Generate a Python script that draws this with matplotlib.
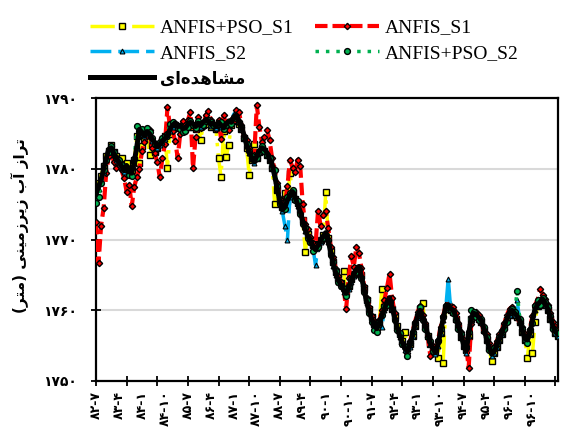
import numpy as np
import matplotlib
matplotlib.use("Agg")
import matplotlib.pyplot as plt

# months counted from 1382-07 (one value per month)
obs = [1776.5, 1777.5, 1778.5, 1780.0, 1781.5, 1782.8, 1783.0, 1782.2, 1781.5, 1781.0,
       1780.4, 1779.9, 1780.5, 1779.6, 1779.4, 1781.0, 1783.2, 1785.6, 1785.2, 1784.8,
       1785.3, 1785.0, 1784.2, 1783.8, 1783.2, 1783.5, 1784.0, 1784.3, 1784.8, 1785.6,
       1786.2, 1786.5, 1786.0, 1786.2, 1785.7, 1785.8, 1786.3, 1786.6, 1786.4, 1786.0,
       1786.5, 1786.2, 1786.6, 1787.0, 1786.8, 1786.3, 1786.5, 1786.0, 1786.6, 1786.2,
       1785.8, 1786.4, 1786.8, 1786.6, 1787.2, 1787.6, 1786.8, 1785.9, 1784.8, 1783.4,
       1782.5, 1781.6, 1781.0, 1781.8, 1782.6, 1783.0, 1782.8, 1782.3, 1781.4, 1780.6,
       1779.0, 1777.2, 1775.5, 1774.2, 1774.6, 1775.6, 1776.3, 1776.8, 1776.0, 1775.0,
       1774.0, 1772.6, 1771.4, 1770.5, 1769.8, 1769.0, 1768.6, 1769.2, 1769.8, 1770.5,
       1771.0, 1769.8, 1768.2, 1766.5, 1765.2, 1764.2, 1763.6, 1762.8, 1762.4, 1763.2,
       1764.2, 1765.0, 1765.8, 1766.2, 1764.8, 1763.0, 1761.2, 1760.0, 1758.8, 1757.8,
       1757.4, 1758.2, 1759.2, 1760.2, 1761.2, 1761.8, 1760.4, 1759.0, 1757.6, 1756.4,
       1755.5, 1754.6, 1754.2, 1755.0, 1756.6, 1758.0, 1759.2, 1760.0, 1759.0, 1757.8,
       1756.6, 1755.4, 1754.6, 1754.0, 1755.2, 1757.0, 1758.8, 1760.4, 1760.8, 1760.2,
       1760.0, 1759.0, 1757.8, 1756.4, 1755.2, 1754.2, 1756.6, 1759.0, 1759.6, 1759.4,
       1759.0, 1758.6, 1757.4, 1756.0, 1754.8, 1753.8, 1754.2, 1755.0, 1756.0, 1756.8,
       1757.8, 1758.8, 1759.6, 1760.0, 1759.6, 1759.2, 1758.6, 1757.2, 1756.0, 1755.8,
       1756.8, 1758.6, 1760.2, 1760.8, 1761.2, 1761.6, 1761.0, 1760.2, 1759.0, 1757.8,
       1757.0, 1756.6]

anfis_s1 = [1772.5, 1766.7, 1772.0, 1774.5, 1779.5, 1781.8, 1782.4, 1781.0, 1780.2, 1780.6,
            1779.8, 1778.7, 1776.8, 1777.8, 1774.7, 1777.5, 1778.9, 1780.0, 1782.5, 1783.8,
            1784.6, 1785.5, 1783.0, 1782.2, 1781.0, 1778.8, 1781.5, 1783.5, 1788.7, 1786.0,
            1785.4, 1784.0, 1781.6, 1785.0, 1786.8, 1786.2, 1786.9, 1788.1, 1780.1, 1784.5,
            1787.4, 1785.8, 1786.0, 1787.6, 1788.2, 1787.0, 1786.2, 1785.6, 1786.9, 1784.3,
            1787.7, 1786.0, 1785.5, 1787.0, 1786.8, 1788.3, 1788.1, 1786.2, 1784.6, 1784.1,
            1783.0, 1781.5, 1782.0, 1789.0, 1786.0, 1783.8, 1784.5, 1785.5, 1784.1, 1781.5,
            1779.8, 1778.0, 1775.8, 1774.8, 1775.0, 1777.6, 1781.3, 1780.2, 1779.6, 1781.3,
            1780.4, 1775.0, 1772.2, 1771.5, 1770.4, 1769.5, 1769.2, 1774.1, 1772.0, 1773.5,
            1774.0, 1771.6, 1769.0, 1767.5, 1765.8, 1764.8, 1764.0, 1763.2, 1760.2, 1764.6,
            1767.7, 1766.2, 1769.0, 1768.1, 1766.0, 1763.5, 1761.8, 1760.5, 1759.2, 1758.2,
            1757.8, 1758.6, 1760.0, 1761.5, 1763.2, 1765.2, 1761.8, 1759.6, 1757.2, 1756.8,
            1755.2, 1755.0, 1753.9, 1755.6, 1757.0, 1758.4, 1759.8, 1760.6, 1759.4, 1758.2,
            1756.2, 1753.5, 1755.0, 1754.4, 1755.8, 1757.6, 1759.2, 1760.8, 1761.2, 1760.6,
            1760.4, 1759.6, 1758.2, 1757.0, 1755.8, 1755.0, 1751.9, 1758.0, 1759.2, 1759.8,
            1759.4, 1758.2, 1757.0, 1756.6, 1755.4, 1754.4, 1754.8, 1755.6, 1756.6, 1757.2,
            1758.2, 1759.4, 1760.2, 1760.5, 1760.0, 1759.0, 1758.2, 1757.6, 1756.6, 1756.4,
            1757.4, 1759.2, 1760.8, 1761.5, 1763.0, 1762.2, 1761.6, 1760.8, 1759.6, 1758.4,
            1757.4, 1757.2]

pso_s1 = [1777.3, 1778.0, 1779.0, 1780.4, 1781.8, 1782.6, 1783.4, 1782.4, 1781.8, 1781.4,
          1781.5, 1780.4, 1780.8, 1780.0, 1779.8, 1781.2, 1784.6, 1780.8, 1783.2, 1784.2,
          1784.8, 1782.0, 1783.6, 1782.4, 1783.0, 1783.6, 1784.0, 1784.6, 1780.2, 1785.0,
          1785.8, 1786.2, 1785.8, 1786.0, 1785.4, 1785.6, 1786.0, 1786.2, 1786.0, 1785.6,
          1786.2, 1784.1, 1786.2, 1786.6, 1786.4, 1786.0, 1786.2, 1785.6, 1781.5, 1778.9,
          1785.4, 1781.7, 1783.4, 1786.2, 1786.8, 1787.2, 1786.4, 1785.6, 1784.4, 1783.0,
          1779.2, 1781.2, 1783.6, 1781.6, 1782.4, 1782.8, 1782.6, 1782.0, 1781.2, 1780.2,
          1775.1, 1777.0, 1775.6, 1774.6, 1776.6, 1775.4, 1779.4, 1776.6, 1775.8, 1775.2,
          1774.2, 1772.8, 1768.3, 1770.8, 1770.0, 1769.2, 1768.8, 1769.4, 1770.0, 1770.6,
          1776.7, 1770.2, 1768.4, 1766.8, 1765.4, 1764.6, 1763.8, 1765.5, 1762.6, 1763.4,
          1764.4, 1765.2, 1765.6, 1766.0, 1765.0, 1763.2, 1761.4, 1760.2, 1759.0, 1758.0,
          1757.6, 1758.4, 1763.0, 1760.4, 1761.0, 1761.6, 1760.2, 1759.2, 1757.8, 1756.6,
          1755.6, 1757.0, 1754.6, 1755.2, 1756.4, 1757.8, 1759.0, 1760.2, 1761.0, 1757.6,
          1756.4, 1755.2, 1754.4, 1754.2, 1753.3, 1756.8, 1752.6, 1760.2, 1760.6, 1760.0,
          1759.8, 1758.8, 1757.6, 1756.2, 1755.0, 1754.4, 1756.4, 1758.8, 1759.4, 1759.2,
          1758.8, 1758.4, 1757.2, 1755.8, 1754.6, 1752.8, 1754.0, 1754.8, 1755.8, 1756.6,
          1757.6, 1758.6, 1759.4, 1759.8, 1759.4, 1759.0, 1758.4, 1757.0, 1755.8, 1753.3,
          1756.6, 1753.9, 1758.3, 1760.6, 1761.0, 1761.4, 1760.8, 1760.0, 1758.8, 1757.6,
          1756.8, 1756.4]

anfis_s2 = [1776.8, 1777.2, 1778.2, 1779.6, 1781.2, 1782.6, 1782.8, 1782.0, 1781.2, 1780.8,
            1780.2, 1779.6, 1780.2, 1779.4, 1779.2, 1780.8, 1783.0, 1785.4, 1785.0, 1784.6,
            1785.0, 1784.8, 1784.0, 1783.6, 1783.0, 1783.4, 1783.8, 1784.2, 1784.6, 1785.4,
            1786.0, 1786.3, 1785.8, 1786.0, 1785.5, 1785.6, 1786.1, 1786.4, 1786.2, 1785.8,
            1786.3, 1786.0, 1786.4, 1786.8, 1786.6, 1786.1, 1786.3, 1785.8, 1786.4, 1786.0,
            1785.6, 1786.2, 1786.6, 1786.8, 1787.8, 1787.4, 1786.6, 1785.7, 1784.6, 1783.2,
            1782.3, 1781.4, 1780.8, 1781.6, 1782.4, 1782.8, 1782.6, 1782.1, 1781.2, 1780.4,
            1778.8, 1777.0, 1775.3, 1774.0, 1772.0, 1770.0, 1776.1, 1776.6, 1775.8, 1774.8,
            1773.8, 1772.4, 1771.2, 1770.3, 1769.6, 1768.8, 1766.4, 1769.0, 1769.6, 1770.3,
            1770.8, 1769.6, 1768.0, 1766.3, 1765.0, 1764.0, 1763.4, 1762.6, 1762.2, 1763.0,
            1764.0, 1764.8, 1765.6, 1766.0, 1764.6, 1762.8, 1761.0, 1759.8, 1758.6, 1757.6,
            1757.2, 1758.0, 1757.7, 1760.0, 1761.0, 1761.6, 1760.2, 1758.8, 1757.4, 1756.2,
            1755.3, 1754.4, 1754.0, 1754.8, 1756.4, 1757.8, 1759.0, 1759.8, 1758.8, 1757.6,
            1756.4, 1755.2, 1754.4, 1753.8, 1755.0, 1756.8, 1758.6, 1760.2, 1764.5, 1760.0,
            1759.8, 1758.8, 1757.6, 1756.2, 1755.0, 1754.0, 1756.4, 1758.8, 1759.4, 1759.2,
            1758.8, 1758.4, 1757.2, 1755.8, 1754.6, 1753.6, 1754.0, 1754.8, 1755.8, 1756.6,
            1757.6, 1758.6, 1759.4, 1759.8, 1759.4, 1761.5, 1758.4, 1757.0, 1755.8, 1755.6,
            1756.6, 1758.4, 1760.0, 1760.6, 1761.0, 1761.4, 1760.8, 1760.0, 1758.8, 1757.6,
            1756.8, 1756.4]

pso_s2 = [1775.2, 1776.0, 1778.0, 1779.8, 1781.2, 1782.4, 1783.2, 1782.4, 1781.6, 1781.2,
          1780.6, 1780.0, 1780.2, 1779.2, 1779.0, 1781.4, 1786.1, 1785.4, 1785.6, 1785.0,
          1785.8, 1785.2, 1784.4, 1783.6, 1783.4, 1783.8, 1784.4, 1784.6, 1785.0, 1786.4,
          1786.6, 1786.4, 1785.8, 1785.6, 1785.2, 1785.4, 1786.0, 1786.8, 1786.2, 1785.8,
          1786.8, 1786.4, 1786.2, 1786.8, 1787.0, 1786.6, 1786.2, 1786.2, 1786.4, 1786.6,
          1785.6, 1786.2, 1786.6, 1786.4, 1787.4, 1787.2, 1786.6, 1786.0, 1784.4, 1783.6,
          1782.6, 1781.8, 1781.2, 1781.6, 1782.4, 1783.2, 1782.6, 1782.0, 1781.6, 1780.2,
          1779.8, 1777.6, 1775.0, 1774.6, 1774.4, 1776.0, 1776.6, 1777.0, 1775.6, 1775.4,
          1773.6, 1772.2, 1771.6, 1770.2, 1769.6, 1768.4, 1768.8, 1769.0, 1770.0, 1770.2,
          1770.6, 1770.0, 1767.8, 1766.8, 1765.6, 1764.0, 1763.4, 1763.0, 1762.0, 1763.4,
          1764.4, 1765.2, 1765.4, 1765.8, 1764.6, 1762.6, 1761.4, 1759.6, 1758.4, 1757.2,
          1757.0, 1758.4, 1759.4, 1760.6, 1760.8, 1761.2, 1760.2, 1758.6, 1757.2, 1756.8,
          1755.2, 1754.8, 1753.6, 1755.4, 1757.0, 1758.2, 1759.4, 1760.4, 1758.6, 1757.4,
          1756.2, 1755.6, 1754.2, 1754.4, 1755.6, 1757.4, 1759.0, 1760.6, 1760.4, 1760.0,
          1759.6, 1758.6, 1757.4, 1756.6, 1755.4, 1754.6, 1757.0, 1760.0, 1759.8, 1759.0,
          1758.6, 1758.8, 1757.6, 1756.2, 1754.4, 1754.2, 1754.6, 1755.2, 1756.2, 1757.0,
          1757.4, 1758.4, 1759.8, 1760.2, 1759.8, 1762.7, 1758.8, 1757.4, 1756.2, 1755.4,
          1757.2, 1758.2, 1760.6, 1761.4, 1760.8, 1761.8, 1761.2, 1760.4, 1759.2, 1757.4,
          1757.2, 1756.8]

# x labels every 9 months, year ticks every 12 months
xlabels = ["۸۲-۷", "۸۳-۴", "۸۴-۱", "۸۴-۱۰", "۸۵-۷", "۸۶-۴", "۸۷-۱", "۸۷-۱۰", "۸۸-۷", "۸۹-۴",
           "۹۰-۱", "۹۰-۱۰", "۹۱-۷", "۹۲-۴", "۹۳-۱", "۹۳-۱۰", "۹۴-۷", "۹۵-۴", "۹۶-۱", "۹۶-۱۰"]
yticks = [1750, 1760, 1770, 1780, 1790]
ylabels = ["۱۷۵۰", "۱۷۶۰", "۱۷۷۰", "۱۷۸۰", "۱۷۹۰"]

# Persian strings pre-shaped (presentation forms, visual order) since matplotlib
# does no Arabic shaping / bidi.
# "تراز آب زیرزمینی (متر)"
ytitle = ("(\uFEAE\uFE98\uFEE3) \uFEF0\uFEE8\uFEF4\uFEE3\uFEAF\uFEAE\uFEF3\uFEAF "
          "\uFE8F\uFE81 \uFEAF\uFE8D\uFEAE\uFE97")
# "مشاهده‌ای"
obs_label = "\uFEEF\uFE8D\uFEE9\uFEAA\uFEEB\uFE8E\uFEB8\uFEE3"

months = np.arange(len(obs))

yellow = "#FFFF00"
red = "#FF0000"
blue = "#00B0F0"
green = "#00B050"

fig = plt.figure(figsize=(5.67, 4.3), dpi=100)
ax = fig.add_axes([96 / 567, 1 - 381 / 430, 462 / 567, 282.7 / 430])

l_y, = ax.plot(months, pso_s1, color=yellow, lw=2.5, dashes=(7, 2, 1, 2),
               marker="s", ms=4.5, mfc=yellow, mec="black", mew=1.0,
               label="ANFIS+PSO_S1", zorder=3)
l_r, = ax.plot(months, anfis_s1, color=red, lw=3, dashes=(3, 1.2),
               marker="D", ms=3.2, mfc=red, mec="black", mew=1.0,
               label="ANFIS_S1", zorder=4)
l_b, = ax.plot(months, anfis_s2, color=blue, lw=2.5, dashes=(6, 2),
               marker="^", ms=3.5, mfc=blue, mec="black", mew=0.8,
               label="ANFIS_S2", zorder=5)
l_g, = ax.plot(months, pso_s2, color=green, lw=2.5, dashes=(1, 2),
               marker="o", ms=4.2, mfc=green, mec="black", mew=1.0,
               label="ANFIS+PSO_S2", zorder=6)
l_k, = ax.plot(months, obs, color="black", lw=3.6, label=obs_label, zorder=7)

ax.set_xlim(0, len(obs) - 1)
ax.set_ylim(1750, 1790)
ax.set_yticks(yticks)
ax.set_yticklabels(ylabels, fontfamily="DejaVu Sans", fontweight="bold", fontsize=10)
ax.xaxis.remove_overlapping_locs = False
ax.set_xticks(np.arange(0, len(obs), 12))
ax.set_xticklabels([])
ax.set_xticks(np.arange(0, 9 * len(xlabels), 9), minor=True)
ax.set_xticklabels(xlabels, minor=True, rotation=90, fontfamily="DejaVu Sans",
                   fontweight="bold", fontsize=9)
ax.tick_params(axis="x", which="major", direction="inout", length=7, width=1.3)
ax.tick_params(axis="x", which="minor", length=0, pad=7)
ax.tick_params(axis="y", direction="inout", length=7, width=1.3, pad=10)
ax.grid(True, axis="y", color="#d9d9d9", lw=1.5, zorder=0)
ax.set_axisbelow(True)
for s in ax.spines.values():
    s.set_linewidth(1.6)

fig.text(20 / 567, 1 - 226 / 430, ytitle, rotation=90, ha="center", va="center",
         fontfamily="DejaVu Sans", fontweight="bold", fontsize=11)

leg = fig.legend(handles=[l_y, l_b, l_k, l_r, l_g], ncol=2, loc="upper left",
                 bbox_to_anchor=(90 / 567, 1 - 19 / 430), frameon=False,
                 prop={"family": "Liberation Serif", "size": 14},
                 handlelength=3.3, handletextpad=0.3, columnspacing=1.1,
                 labelspacing=0.4, borderpad=0, borderaxespad=0, numpoints=1)
t = leg.get_texts()[2]
t.set_fontfamily("DejaVu Sans")
t.set_fontweight("bold")
t.set_fontsize(12)

fig.savefig("out.png", dpi=100)
